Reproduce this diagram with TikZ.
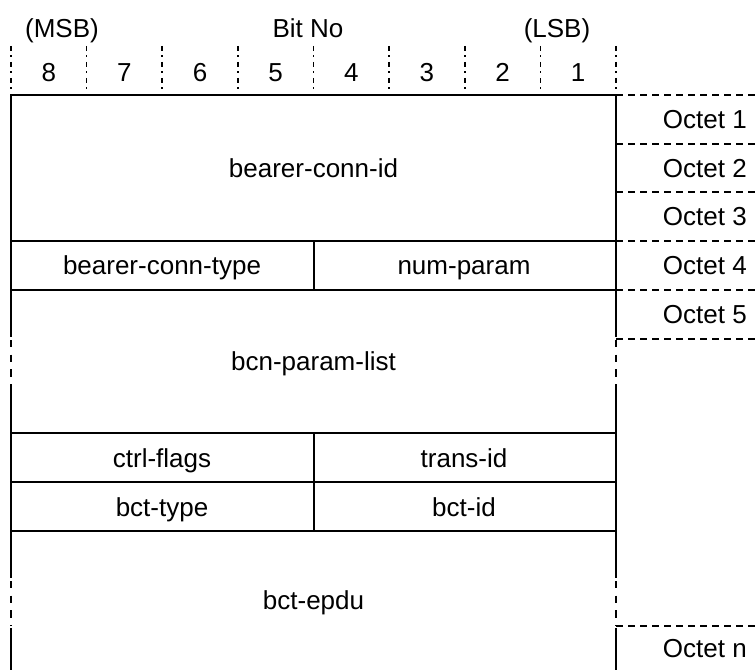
\documentclass[tikz,border=0pt]{standalone}
\usepackage{fontspec}
\setmainfont{Liberation Sans}
\begin{document}
\begin{tikzpicture}[x=0.75pt,y=-0.75pt,
  every node/.style={font=\fontsize{19.5}{23}\selectfont, inner sep=0pt, text height=14pt, text depth=0pt},
  solidline/.style={line width=1.5pt},
  dashline/.style={line width=1.5pt, dash pattern=on 5.25pt off 3.75pt},
  vdashline/.style={line width=1.8pt, dash pattern=on 5.5pt off 5.5pt},
  tickline/.style={line width=1.2pt, dash pattern=on 4pt off 3pt on 1pt off 4pt},
  field/.style={anchor=center},
  octet/.style={anchor=east}]
\useasboundingbox (0,0) rectangle (755,670);
% header
\node (msb) at (62,28) {(MSB)};
\node (bitno) at (308,28) {Bit No};
\node (lsb) at (557,28) {(LSB)};
\foreach \k in {0,...,8}{
  \coordinate (t\k) at ({11+75.625*\k},46);
  \coordinate (b\k) at ({11+75.625*\k},93);
  \draw[tickline] (t\k) -- (b\k);
}
\foreach \k/\n in {0/8,1/7,2/6,3/5,4/4,5/3,6/2,7/1}{
  \node (bit\n) at ({11+75.625*(\k+0.5)},72) {\n};
}
% main box horizontals
\coordinate (L0) at (11,95);   \coordinate (R0) at (616,95);
\coordinate (L1) at (11,241);  \coordinate (R1) at (616,241);
\coordinate (L2) at (11,290);  \coordinate (R2) at (616,290);
\coordinate (L3) at (11,433);  \coordinate (R3) at (616,433);
\coordinate (L4) at (11,482);  \coordinate (R4) at (616,482);
\coordinate (L5) at (11,531);  \coordinate (R5) at (616,531);
\foreach \i in {0,...,5}{ \draw[solidline] (L\i) -- (R\i); }
% middle dividers
\draw[solidline] (313.5,241) -- (313.5,290);
\draw[solidline] (313.5,433) -- (313.5,531);
% side verticals
\foreach \xx in {11,616}{
  \draw[solidline] (\xx,94.25) -- (\xx,337);
  \draw[vdashline] (\xx,340) -- (\xx,385);
  \draw[solidline] (\xx,385) -- (\xx,578);
  \draw[vdashline] (\xx,581) -- (\xx,626);
  \draw[solidline] (\xx,628) -- (\xx,670);
}
% right dashed octet lines
\foreach \yy in {95,144,192,241,290,339,626}{
  \draw[dashline] (616,\yy) -- (755,\yy);
}
% octet labels
\node[octet] (o1) at (747,119.5) {Octet 1};
\node[octet] (o2) at (747,168) {Octet 2};
\node[octet] (o3) at (747,216.5) {Octet 3};
\node[octet] (o4) at (747,265.5) {Octet 4};
\node[octet] (o5) at (747,314.5) {Octet 5};
\node[octet] (on) at (747,648) {Octet n};
% fields
\node[field] (bcid) at (313.5,168) {bearer-conn-id};
\node[field] (bctype) at (162,265.5) {bearer-conn-type};
\node[field] (nump) at (464,265.5) {num-param};
\node[field] (bcnp) at (313.5,361) {bcn-param-list};
\node[field] (ctrl) at (162,458) {ctrl-flags};
\node[field] (trans) at (464,458) {trans-id};
\node[field] (bcttype) at (162,507) {bct-type};
\node[field] (bctid) at (464,507) {bct-id};
\node[field] (epdu) at (313.5,600) {bct-epdu};
\end{tikzpicture}
\end{document}
